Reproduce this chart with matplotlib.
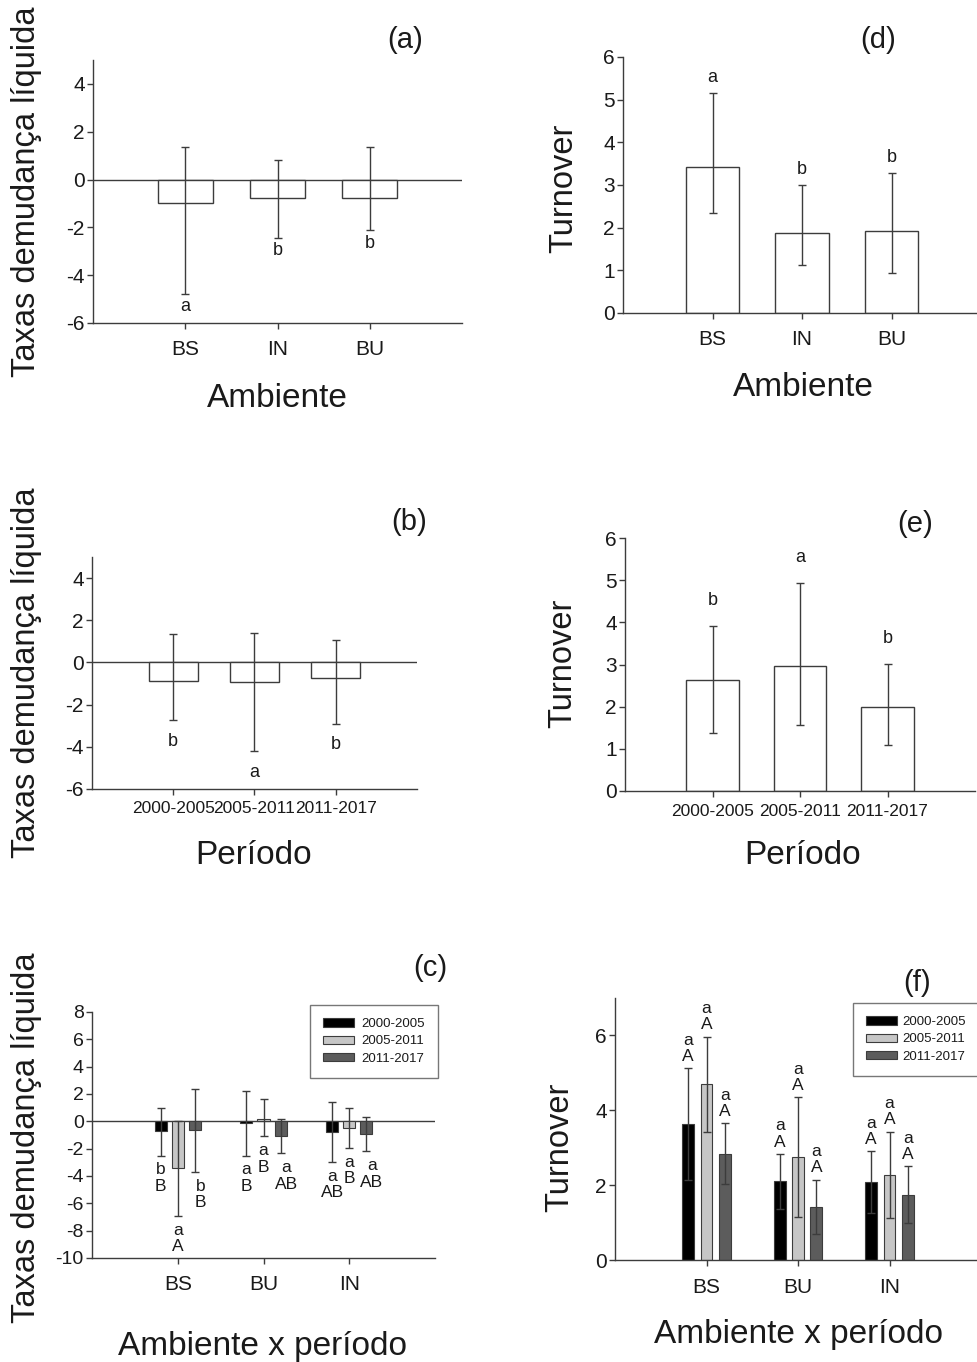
import numpy as np
import matplotlib
matplotlib.use('Agg')
import matplotlib.pyplot as plt

plt.rcParams['font.family'] = ['Liberation Sans', 'DejaVu Sans']
plt.rcParams['axes.unicode_minus'] = False

# data
ambiente = ['BS', 'IN', 'BU']
ambienteGrupo = ['BS', 'BU', 'IN']
periodo = ['2000-2005', '2005-2011', '2011-2017']

taxaAmbiente = [-1.0, -0.78, -0.78]
taxaAmbienteSup = [1.38, 0.83, 1.38]
taxaAmbienteInf = [-4.8, -2.45, -2.13]
taxaAmbienteLetras = ['a', 'b', 'b']

taxaPeriodo = [-0.9, -0.93, -0.75]
taxaPeriodoSup = [1.37, 1.41, 1.08]
taxaPeriodoInf = [-2.74, -4.2, -2.9]
taxaPeriodoLetras = ['b', 'a', 'b']

# rows = period, columns = BS, BU, IN
taxaGrupo = [[-0.73, -0.1, -0.8],
             [-3.45, 0.2, -0.5],
             [-0.65, -1.05, -0.9]]
taxaGrupoSup = [[0.95, 2.25, 1.4],
                [0.0, 1.6, 0.95],
                [2.4, 0.2, 0.3]]
taxaGrupoInf = [[-2.5, -2.5, -3.0],
                [-6.95, -1.1, -1.95],
                [-3.7, -2.35, -2.2]]
taxaGrupoLetras = [['b\nB', 'a\nB', 'a\nAB'],
                   ['a\nA', 'a\nB', 'a\nB'],
                   ['b\nB', 'a\nAB', 'a\nAB']]

turnoverAmbiente = [3.42, 1.87, 1.92]
turnoverAmbienteSup = [5.15, 3.0, 3.28]
turnoverAmbienteInf = [2.34, 1.12, 0.94]
turnoverAmbienteLetras = ['a', 'b', 'b']

turnoverPeriodo = [2.63, 2.96, 1.99]
turnoverPeriodoSup = [3.91, 4.93, 3.01]
turnoverPeriodoInf = [1.37, 1.56, 1.09]
turnoverPeriodoLetras = ['b', 'a', 'b']

turnoverGrupo = [[3.63, 2.1, 2.08],
                 [4.7, 2.76, 2.28],
                 [2.84, 1.42, 1.75]]
turnoverGrupoSup = [[5.12, 2.84, 2.9],
                    [5.97, 4.35, 3.43],
                    [3.66, 2.15, 2.5]]
turnoverGrupoInf = [[2.14, 1.36, 1.26],
                    [3.42, 1.15, 1.12],
                    [2.03, 0.7, 0.98]]
turnoverGrupoLetras = [['a\nA', 'a\nA', 'a\nA'],
                       ['a\nA', 'a\nA', 'a\nA'],
                       ['a\nA', 'a\nA', 'a\nA']]

W, H = 977, 1362
LINE = '#3c3c3c'
TXT = '#1a1a1a'
groupColors = ['#000000', '#c6c6c6', '#5c5c5c']

fig = plt.figure(figsize=(W / 100, H / 100), dpi=100)


def axesAt(left, right, top, bottom):
    return fig.add_axes([left / W, 1 - bottom / H, (right - left) / W, (bottom - top) / H])


def styleAxes(ax, ylim, yticks, xlabels, xfont, xpad, zeroLine):
    for s in ['top', 'right']:
        ax.spines[s].set_visible(False)
    for s in ['left', 'bottom']:
        ax.spines[s].set_color(LINE)
        ax.spines[s].set_linewidth(1)
    ax.set_xlim(0, 4)
    ax.set_ylim(*ylim)
    ax.set_yticks(yticks)
    ax.set_xticks([1, 2, 3])
    ax.set_xticklabels(xlabels)
    ax.tick_params(axis='y', direction='out', length=4, width=1, color=LINE,
                   labelsize=15, pad=2, labelcolor=TXT)
    ax.tick_params(axis='x', direction='out', length=4, width=1, color=LINE,
                   labelsize=xfont, pad=xpad, labelcolor=TXT)
    if zeroLine:
        ax.axhline(0, color=LINE, lw=1, zorder=1)


def setLabels(ax, xlabel, xpos, ylabel, ypos, title, tpos):
    ax.set_xlabel(xlabel, fontsize=24, color=TXT, va='center')
    ax.xaxis.set_label_coords(xpos[0] / W, 1 - xpos[1] / H, transform=fig.transFigure)
    ax.set_ylabel(ylabel, fontsize=23.5, color=TXT, va='center')
    ax.yaxis.set_label_coords(ypos[0] / W, 1 - ypos[1] / H, transform=fig.transFigure)
    fig.text(tpos[0] / W, 1 - tpos[1] / H, title, fontsize=21, color=TXT,
             ha='center', va='center')


def drawSimplePanel(ax, means, sup, inf, letras, above, offset):
    x = np.arange(1, len(means) + 1)
    means = np.array(means)
    yerr = [means - np.array(inf), np.array(sup) - means]
    ax.bar(x, means, width=0.6, color='white', edgecolor=LINE, linewidth=1, zorder=2)
    ax.errorbar(x, means, yerr=yerr, fmt='none', ecolor=LINE, elinewidth=1,
                capsize=3, capthick=1, zorder=3)
    for xi, s, i, l in zip(x, sup, inf, letras):
        if above:
            ax.annotate(l, (xi, s), xytext=(0, offset), textcoords='offset points',
                        ha='center', va='bottom', fontsize=13, color=TXT)
        else:
            ax.annotate(l, (xi, i), xytext=(0, -offset), textcoords='offset points',
                        ha='center', va='top', fontsize=13, color=TXT)


def drawGroupedPanel(ax, means, sup, inf, letras, above, width, letterShift):
    x = np.arange(1, len(means[0]) + 1)
    shifts = [-0.2, 0.0, 0.2]
    for k in range(len(means)):
        m = np.array(means[k])
        yerr = [m - np.array(inf[k]), np.array(sup[k]) - m]
        xs = x + shifts[k]
        ax.bar(xs, m, width=width, color=groupColors[k], edgecolor=LINE,
               linewidth=0.8, label=periodo[k], zorder=2)
        ax.errorbar(xs, m, yerr=yerr, fmt='none', ecolor=LINE, elinewidth=1,
                    capsize=3, capthick=1, zorder=3)
        for xi, s, i, l in zip(xs, sup[k], inf[k], letras[k]):
            if above:
                ax.annotate(l, (xi, s), xytext=(letterShift[k], 3), textcoords='offset points',
                            ha='center', va='bottom', fontsize=12.5, color=TXT,
                            linespacing=1.1)
            else:
                ax.annotate(l, (xi, i), xytext=(letterShift[k], -5), textcoords='offset points',
                            ha='center', va='top', fontsize=12.5, color=TXT,
                            linespacing=1.1)


def addLegend(ax, xpix, ypix, textpad):
    leg = ax.legend(loc='upper left', bbox_to_anchor=(xpix / W, 1 - ypix / H),
                    bbox_transform=fig.transFigure,
                    prop={'family': 'Liberation Sans', 'size': 9.5}, frameon=True,
                    fancybox=False, borderpad=1.0, labelspacing=0.4,
                    handlelength=2.3, handleheight=0.6, handletextpad=textpad,
                    borderaxespad=0)
    leg.get_frame().set_edgecolor('#555555')
    leg.get_frame().set_linewidth(1)
    for t in leg.get_texts():
        t.set_color(TXT)


# (a)
ax = axesAt(93, 462, 60, 323)
styleAxes(ax, (-6, 5), np.arange(-6, 5, 2), ambiente, 15, 8, True)
drawSimplePanel(ax, taxaAmbiente, taxaAmbienteSup, taxaAmbienteInf, taxaAmbienteLetras, False, 3)
setLabels(ax, 'Ambiente', (277, 398), 'Taxas demudança líquida', (27, 192), '(a)', (405, 40))

# (b)
ax = axesAt(92, 417, 557, 789)
styleAxes(ax, (-6, 5), np.arange(-6, 5, 2), periodo, 12.5, 5, True)
drawSimplePanel(ax, taxaPeriodo, taxaPeriodoSup, taxaPeriodoInf, taxaPeriodoLetras, False, 9)
setLabels(ax, 'Período', (254, 855), 'Taxas demudança líquida', (27, 673), '(b)', (409, 522))

# (c)
ax = axesAt(92, 435, 1012, 1258)
styleAxes(ax, (-10, 8), np.arange(-10, 9, 2), ambienteGrupo, 15, 8, True)
ax.tick_params(axis='y', labelsize=14)
drawGroupedPanel(ax, taxaGrupo, taxaGrupoSup, taxaGrupoInf, taxaGrupoLetras, False, 0.14, [0, 0, 4])
addLegend(ax, 310, 1005, 0.6)
setLabels(ax, 'Ambiente x período', (262, 1347), 'Taxas demudança líquida', (27, 1138), '(c)', (430, 968))

# (d)
ax = axesAt(623, 981, 57, 313)
styleAxes(ax, (0, 6), np.arange(0, 7, 1), ambiente, 15, 8, False)
drawSimplePanel(ax, turnoverAmbiente, turnoverAmbienteSup, turnoverAmbienteInf, turnoverAmbienteLetras, True, 5)
setLabels(ax, 'Ambiente', (803, 387), 'Turnover', (564, 188), '(d)', (878, 40))

# (e)
ax = axesAt(625, 975, 538, 791)
styleAxes(ax, (0, 6), np.arange(0, 7, 1), periodo, 12.5, 5, False)
drawSimplePanel(ax, turnoverPeriodo, turnoverPeriodoSup, turnoverPeriodoInf, turnoverPeriodoLetras, True, 12)
setLabels(ax, 'Período', (803, 856), 'Turnover', (563, 663), '(e)', (915, 524))

# (f)
ax = axesAt(615, 981, 998, 1260)
styleAxes(ax, (0, 7), np.arange(0, 7, 2), ambienteGrupo, 15, 9, False)
drawGroupedPanel(ax, turnoverGrupo, turnoverGrupoSup, turnoverGrupoInf, turnoverGrupoLetras, True, 0.13, [0, 0, 0])
addLegend(ax, 853, 1003, 0.4)
setLabels(ax, 'Ambiente x período', (798, 1335), 'Turnover', (560, 1147), '(f)', (917, 983))

fig.savefig('out.png', dpi=100)
